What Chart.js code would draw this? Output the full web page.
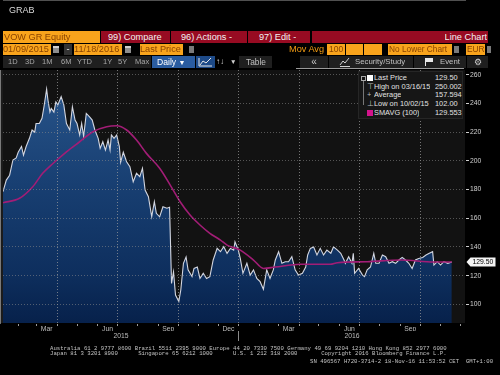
<!DOCTYPE html>
<html><head><meta charset="utf-8">
<script src="https://cdn.jsdelivr.net/npm/chart.js@4.4.1/dist/chart.umd.min.js"></script>
<style>
html,body{margin:0;padding:0;background:#000;width:500px;height:375px;overflow:hidden;}
#c{position:absolute;left:0;top:0;}
.a{position:absolute;white-space:nowrap;box-sizing:border-box;overflow:hidden;}
.tb{font-family:"Liberation Sans",Arial,sans-serif;font-size:9.2px;}
.nf{font-family:"Liberation Sans",Arial,sans-serif;}
.or{background:#f9a41c;color:#8a4300;}
.gy{background:#1f1f1f;color:#b4b4b4;}
.foot{position:absolute;white-space:pre;font-family:"Liberation Mono","DejaVu Sans Mono",monospace;font-size:11.3px;line-height:12px;color:#c4c4c4;transform:scale(0.5);transform-origin:0 0;}
</style>
</head><body>
<canvas id="c" width="500" height="375"></canvas>

<div class="a nf" style="left:9px;top:4px;font-size:9px;line-height:12px;color:#dadada;">GRAB</div>

<!-- row 1 -->
<div class="a tb or" style="left:3px;top:31px;width:97px;height:12px;line-height:12px;padding-left:1px;">VOW GR Equity</div>
<div class="a" style="left:101px;top:31px;width:387px;height:12px;background:#970b22;"></div>
<div class="a" style="left:170px;top:31px;width:1px;height:12px;background:#000;"></div>
<div class="a" style="left:247px;top:31px;width:1px;height:12px;background:#000;"></div>
<div class="a" style="left:310px;top:31px;width:2px;height:12px;background:#000;"></div>
<div class="a tb" style="left:108px;top:31px;line-height:12px;color:#f2f2f2;">99) Compare</div>
<div class="a tb" style="left:181px;top:31px;line-height:12px;color:#f2f2f2;">96) Actions -</div>
<div class="a tb" style="left:259px;top:31px;line-height:12px;color:#f2f2f2;">97) Edit -</div>
<div class="a tb" style="right:13px;top:31px;line-height:12px;color:#f2f2f2;">Line Chart</div>

<!-- row 2 -->
<div class="a tb or" style="left:3px;top:44px;width:48px;height:11px;line-height:11px;">01/09/2015</div>
<div class="a" style="left:53px;top:46px;width:6px;height:7px;background:#8d8d8d;border-top:2px solid #d0d0d0;"></div>
<div class="a tb" style="left:64px;top:44px;width:8px;height:11px;line-height:11px;background:#333;color:#eee;text-align:center;">-</div>
<div class="a tb or" style="left:74px;top:44px;width:48px;height:11px;line-height:11px;">11/18/2016</div>
<div class="a" style="left:125px;top:46px;width:6px;height:7px;background:#8d8d8d;border-top:2px solid #d0d0d0;"></div>
<div class="a tb or" style="left:140px;top:44px;width:43px;height:11px;line-height:11px;">Last Price</div>
<div class="a" style="left:189px;top:46px;width:5px;height:7px;background:#7a7a7a;"></div>
<div class="a tb" style="left:289px;top:44px;line-height:11px;color:#f49d12;">Mov Avg</div>
<div class="a tb or" style="left:327px;top:44px;width:18px;height:11px;line-height:11px;padding-left:2px;font-size:8.5px;">100</div>
<div class="a or" style="left:346px;top:44px;width:17px;height:11px;"></div>
<div class="a or" style="left:364px;top:44px;width:18px;height:11px;"></div>
<div class="a tb or" style="left:388px;top:44px;width:64px;height:11px;line-height:11px;padding-left:1px;font-size:8.3px;">No Lower Chart</div>
<div class="a" style="left:454px;top:46px;width:5px;height:7px;background:#7a7a7a;"></div>
<div class="a tb or" style="left:466px;top:44px;width:19px;height:11px;line-height:11px;padding-left:1px;font-size:8.3px;">EUR</div>
<div class="a" style="left:487px;top:46px;width:4px;height:7px;background:#7a7a7a;"></div>

<!-- row 3 -->
<div class="a gy" style="left:3px;top:56px;width:148px;height:12px;"></div>
<div class="a nf" style="left:8px;top:56px;font-size:7.5px;line-height:12px;color:#a8a8a8;">1D</div>
<div class="a nf" style="left:25px;top:56px;font-size:7.5px;line-height:12px;color:#a8a8a8;">3D</div>
<div class="a nf" style="left:42px;top:56px;font-size:7.5px;line-height:12px;color:#a8a8a8;">1M</div>
<div class="a nf" style="left:61px;top:56px;font-size:7.5px;line-height:12px;color:#a8a8a8;">6M</div>
<div class="a nf" style="left:77px;top:56px;font-size:7.5px;line-height:12px;color:#a8a8a8;">YTD</div>
<div class="a nf" style="left:103px;top:56px;font-size:7.5px;line-height:12px;color:#a8a8a8;">1Y</div>
<div class="a nf" style="left:118px;top:56px;font-size:7.5px;line-height:12px;color:#a8a8a8;">5Y</div>
<div class="a nf" style="left:135px;top:56px;font-size:7.5px;line-height:12px;color:#a8a8a8;">Max</div>
<div class="a tb" style="left:152px;top:56px;width:43px;height:12px;line-height:12px;background:#2a5ca0;color:#fff;padding-left:5px;font-size:8.6px;">Daily <span style="font-size:7px">▼</span></div>
<div class="a" style="left:196px;top:56px;width:19px;height:12px;background:#1d4a88;">
 <svg width="19" height="12" style="position:absolute;left:0;top:0"><polyline points="4,9 7,5 10,7 15,2" fill="none" stroke="#e8e8e8" stroke-width="1"/><polyline points="3,2 3,10 16,10" fill="none" stroke="#e8e8e8" stroke-width="1"/></svg>
</div>
<div class="a tb" style="left:216px;top:56px;line-height:12px;color:#d8d8d8;font-size:8px;">↑↓</div>
<div class="a tb" style="left:230px;top:56px;line-height:12px;color:#cfcfcf;font-size:6.5px;">▼</div>
<div class="a gy tb" style="left:239px;top:56px;width:33px;height:12px;line-height:12px;padding-left:7px;color:#c0c0c0;font-size:8.4px;">Table</div>
<div class="a gy tb" style="left:300px;top:56px;width:28px;height:12px;line-height:12px;text-align:center;color:#c8c8c8;font-size:10px;">«</div>
<div class="a gy" style="left:329px;top:56px;width:84px;height:12px;">
 <svg width="12" height="10" style="position:absolute;left:10px;top:1px"><polyline points="1,8 4,4 6,6 10,1" fill="none" stroke="#cfcfcf" stroke-width="1"/><line x1="1" y1="9.5" x2="11" y2="9.5" stroke="#cfcfcf"/></svg>
</div>
<div class="a tb" style="left:355px;top:56px;line-height:12px;color:#c0c0c0;font-size:7.8px;">Security/Study</div>
<div class="a gy" style="left:414px;top:56px;width:52px;height:12px;"></div>
<div class="a" style="left:425px;top:58px;width:1px;height:8px;background:#e8e8e8;"></div>
<div class="a" style="left:426px;top:58px;width:7px;height:4px;background:#e8e8e8;"></div>
<div class="a tb" style="left:440px;top:56px;line-height:12px;color:#c0c0c0;font-size:7.8px;">Event</div>
<div class="a gy tb" style="left:467px;top:56px;width:21px;height:12px;line-height:12px;text-align:center;color:#cfcfcf;font-size:9px;">⚙</div>
<div class="a" style="left:296px;top:68px;width:168px;height:1px;background:#9a9a9a;"></div>

<!-- legend -->
<div id="lg" class="a" style="left:358px;top:71px;width:105px;height:48px;background:#161616;border:1px solid #262626;"></div>

<!-- footer -->
<div class="foot" style="left:50px;top:344.5px;">Australia 61 2 9777 8600 Brazil 5511 2395 9000 Europe 44 20 7330 7500 Germany 49 69 9204 1210 Hong Kong 852 2977 6000</div>
<div class="foot" style="left:50px;top:350px;">Japan 81 3 3201 8900      Singapore 65 6212 1000      U.S. 1 212 318 2000       Copyright 2016 Bloomberg Finance L.P.</div>
<div class="foot" style="left:310px;top:358px;">SN 496567 H720-3714-2 18-Nov-16 11:53:52 CET  GMT+1:00</div>

<script>
// ---------------- data ----------------
const priceDates = [
'2015-01-09','2015-01-14','2015-01-19','2015-01-24','2015-01-29','2015-02-01','2015-02-06','2015-02-09','2015-02-13','2015-02-18',
'2015-02-22','2015-02-26','2015-02-28','2015-03-05','2015-03-09','2015-03-12','2015-03-16','2015-03-18','2015-03-21','2015-03-23',
'2015-03-27','2015-03-30','2015-04-02','2015-04-07','2015-04-11','2015-04-15','2015-04-20','2015-04-24','2015-04-28','2015-05-01',
'2015-05-05','2015-05-08','2015-05-11','2015-05-15','2015-05-20','2015-05-24','2015-05-28','2015-06-02','2015-06-05','2015-06-09',
'2015-06-13','2015-06-17','2015-06-20','2015-06-22','2015-06-26','2015-06-30','2015-07-04','2015-07-06','2015-07-10','2015-07-15',
'2015-07-20','2015-07-25','2015-07-30','2015-08-04','2015-08-08','2015-08-12','2015-08-17','2015-08-22','2015-08-26','2015-08-29',
'2015-09-03','2015-09-08','2015-09-14','2015-09-18','2015-09-21','2015-09-24','2015-09-27','2015-10-02','2015-10-05','2015-10-09',
'2015-10-13','2015-10-16','2015-10-22','2015-10-25','2015-10-30','2015-11-03','2015-11-08','2015-11-13','2015-11-18','2015-11-23',
'2015-11-29','2015-12-04','2015-12-09','2015-12-14','2015-12-19','2015-12-24','2015-12-26','2015-12-31','2016-01-03','2016-01-07',
'2016-01-13','2016-01-18','2016-01-23','2016-01-28','2016-02-02','2016-02-07','2016-02-12','2016-02-17','2016-02-22','2016-02-25',
'2016-03-01','2016-03-06','2016-03-11','2016-03-16','2016-03-21','2016-03-26','2016-03-31','2016-04-06','2016-04-11','2016-04-14',
'2016-04-18','2016-04-23','2016-04-28','2016-05-03','2016-05-08','2016-05-13','2016-05-19','2016-05-23','2016-05-29','2016-06-03',
'2016-06-08','2016-06-10','2016-06-15','2016-06-20','2016-06-22','2016-06-24','2016-06-30','2016-07-06','2016-07-09','2016-07-13',
'2016-07-18','2016-07-23','2016-07-26','2016-07-31','2016-08-05','2016-08-10','2016-08-15','2016-08-20','2016-08-25','2016-08-30',
'2016-09-04','2016-09-09','2016-09-14','2016-09-19','2016-09-24','2016-09-29','2016-10-05','2016-10-10','2016-10-15','2016-10-20',
'2016-10-22','2016-10-27','2016-11-01','2016-11-06','2016-11-12','2016-11-18'];
const prices = [
178.5,186.6,190.0,200.6,202.0,206.0,210.0,204.0,210.0,215.7,
221.5,220.0,226.0,226.0,229.6,237.7,250.0,242.4,234.0,236.6,
234.0,241.0,239.0,244.7,239.0,226.0,221.5,237.7,228.4,226.0,
218.0,226.0,217.0,233.0,230.7,228.4,221.5,215.7,208.7,213.3,
207.5,214.5,207.5,218.0,215.7,218.0,210.0,199.0,206.0,199.4,
195.9,185.4,191.3,189.0,194.8,179.7,175.0,161.0,171.5,163.4,
161.0,168.0,167.0,167.6,114.6,122.7,106.5,102.0,110.0,128.6,
133.0,124.0,119.3,125.0,126.0,118.1,121.6,118.0,119.3,130.9,
139.0,136.7,140.2,135.5,139.0,137.8,143.6,137.8,132.0,121.6,
128.6,120.4,124.0,118.1,115.8,110.5,124.0,118.0,124.0,130.9,
136.7,128.6,129.7,129.7,133.2,124.0,120.4,121.6,126.0,134.4,
139.0,140.0,134.4,139.0,134.4,137.8,135.6,140.0,137.8,135.6,
130.9,128.6,133.2,128.6,135.6,121.6,125.0,120.4,119.3,124.0,
126.0,135.6,128.6,128.6,134.4,133.2,128.6,129.7,128.6,130.9,
132.7,130.9,128.6,125.0,130.9,132.0,132.7,134.4,135.6,136.7,
127.4,129.7,127.4,129.7,128.6,129.5];
const smaDates = [
'2015-01-09','2015-02-03','2015-02-23','2015-03-10','2015-03-26','2015-04-15','2015-05-05','2015-05-25','2015-06-15','2015-06-30',
'2015-07-15','2015-07-30','2015-08-14','2015-09-03','2015-09-19','2015-10-04','2015-10-19','2015-11-03','2015-11-18','2015-12-04',
'2015-12-14','2016-01-03','2016-01-23','2016-02-07','2016-02-25','2016-04-03','2016-05-18','2016-05-29','2016-07-13','2016-09-02',
'2016-10-22','2016-11-18'];
const smaValues = [
170.8,173.9,182.0,191.3,198.3,206.3,213.3,220.3,223.8,224.4,
221.5,214.5,205.2,194.8,183.1,171.5,162.2,155.3,149.5,144.8,
141.3,137.8,130.9,125.0,126.0,127.9,127.9,129.0,129.7,130.9,
129.5,129.55];
const yTicks = [100,120,140,160,180,200,220,240,260];
const monthNames = ['Jan','Feb','Mar','Apr','May','Jun','Jul','Aug','Sep','Oct','Nov','Dec'];
const labelledMonths = ['Mar','Jun','Sep','Dec'];
const gridMonths = ['Jan','Apr','Jul','Oct'];
const years = ['2015','2016'];
const axisStart = '2015-01-09';
const axisEnd = '2016-12-08';
const legendLabels = ['Last Price','High on 03/16/15','Average','Low on 10/02/15','SMAVG (100)'];
const legendValues = ['129.50','250.002','157.594','102.00','129.553'];

// ---------------- helpers ----------------
const NF = '"Liberation Sans", Arial, sans-serif';
const DAY0 = Date.UTC(2015,0,1);
function dayNum(s){const p=s.split('-').map(Number);return (Date.UTC(p[0],p[1]-1,p[2])-DAY0)/86400000;}
const xMin = dayNum(axisStart), xMax = dayNum(axisEnd);

// month boundary ticks (label shown only when the middle of the month is on the axis)
const monthTicks = [];
for(let y=2015;y<=2016;y++){for(let m=0;m<12;m++){
  const d=(Date.UTC(y,m,1)-DAY0)/86400000;
  if(d>xMin && d<xMax) monthTicks.push({value:d, name:monthNames[m], full:(d+15)<xMax});
}}
// year label ticks & separators
const yearTicks = [];
years.forEach((yr,i)=>{
  const s = Math.max(xMin,(Date.UTC(+yr,0,1)-DAY0)/86400000);
  const e = Math.min(xMax,(Date.UTC(+yr+1,0,1)-DAY0)/86400000);
  yearTicks.push({value:(s+e)/2, label:yr, sep:false});
  if(i>0) yearTicks.push({value:s, label:'', sep:true});
});
yearTicks.sort((a,b)=>a.value-b.value);

// legend html
const lg = document.getElementById('lg');
const rowTop = [1,9.7,18.4,27.1,35.8];
let h = '<div class="a" style="left:2px;top:4px;width:5px;height:5px;border:1px solid #aaa;"></div>'+
        '<div class="a" style="left:4px;top:9px;width:1px;height:24px;background:#777;"></div>';
const icons = [
  '<div class="a" style="left:8px;top:3px;width:6px;height:6px;background:#fff;"></div>',
  '<div class="a nf" style="left:8px;top:'+rowTop[1]+'px;font-size:7.5px;line-height:9px;color:#bbb;">⊤</div>',
  '<div class="a nf" style="left:8px;top:'+rowTop[2]+'px;font-size:7.5px;line-height:9px;color:#bbb;">+</div>',
  '<div class="a nf" style="left:8px;top:'+rowTop[3]+'px;font-size:7.5px;line-height:9px;color:#bbb;">⊥</div>',
  '<div class="a" style="left:8px;top:38px;width:6px;height:6px;background:#d4148c;"></div>'
];
legendLabels.forEach((l,i)=>{
  h += icons[i];
  h += '<div class="a nf" style="left:15px;top:'+rowTop[i]+'px;font-size:7.4px;line-height:9px;color:#e2e2e2;">'+l+'</div>';
  h += '<div class="a nf" style="left:76px;top:'+rowTop[i]+'px;font-size:7.4px;line-height:9px;color:#e2e2e2;">'+legendValues[i]+'</div>';
});
lg.innerHTML = h;

// ---------------- chart ----------------
const pricePts = priceDates.map((d,i)=>({x:dayNum(d),y:prices[i]}));
const smaPts = smaDates.map((d,i)=>({x:dayNum(d),y:smaValues[i]}));

const bgPlugin = {
  id:'bg',
  beforeDraw(chart){
    const {ctx,chartArea:a} = chart;
    ctx.save();
    ctx.fillStyle='#000'; ctx.fillRect(0,0,chart.width,chart.height);
    ctx.fillStyle='#1b1b1b'; ctx.fillRect(0,a.top,a.left,a.bottom-a.top);
    ctx.fillStyle='#121212'; ctx.fillRect(a.left,a.top,a.right-a.left,a.bottom-a.top);
    ctx.restore();
  }
};
const lastPlugin = {
  id:'lastLabel',
  afterDraw(chart){
    const ys = chart.scales.y, ctx = chart.ctx;
    const v = prices[prices.length-1];
    const y = ys.getPixelForValue(v), x = ys.left + 1.5;
    ctx.save();
    ctx.fillStyle='#f4f4f4';
    ctx.beginPath();
    ctx.moveTo(x,y); ctx.lineTo(x+4,y-4.5); ctx.lineTo(x+29,y-4.5); ctx.lineTo(x+29,y+4.5); ctx.lineTo(x+4,y+4.5); ctx.closePath();
    ctx.fill();
    ctx.fillStyle='#000'; ctx.font='6.8px '+NF; ctx.textBaseline='middle'; ctx.textAlign='left';
    ctx.fillText(v.toFixed(2), x+6, y+0.5);
    ctx.restore();
  }
};

new Chart(document.getElementById('c'), {
  type:'line',
  data:{datasets:[
    {label:'SMAVG (100)', data:smaPts, borderColor:'#a21d76', borderWidth:1.6, pointRadius:0, fill:false, cubicInterpolationMode:'monotone'},
    {label:'Last Price', data:pricePts, borderColor:'#d3d6e0', borderWidth:1.1, pointRadius:0, tension:0, fill:'start',
     backgroundColor:(c)=>{const a=c.chart.chartArea; if(!a) return '#173d70';
       const g=c.chart.ctx.createLinearGradient(0,a.top,0,a.bottom);
       g.addColorStop(0,'#2a578d'); g.addColorStop(0.45,'#183f72'); g.addColorStop(0.8,'#0e2f5e'); g.addColorStop(1,'#07214b'); return g;}}
  ]},
  options:{
    responsive:false, animation:false, events:[],
    layout:{padding:{left:3,top:70,right:0,bottom:0}},
    plugins:{legend:{display:false}, tooltip:{enabled:false}},
    scales:{
      x:{type:'linear', position:'bottom', min:xMin, max:xMax, weight:0,
        afterBuildTicks:s=>{s.ticks = monthTicks.map(t=>({value:t.value}));},
        afterFit:s=>{s.height=8;},
        grid:{z:1, lineWidth:1, tickLength:3, tickColor:'#9a9a9a', tickBorderDash:[],
          color:(c)=>{ if(!c.tick) return 'rgba(0,0,0,0)'; const t=monthTicks.find(m=>m.value===c.tick.value); return (t && gridMonths.includes(t.name)) ? 'rgba(160,160,160,0.7)' : 'rgba(0,0,0,0)'; }},
        border:{display:true, color:'#a0a0a0', dash:[1,2]},
        ticks:{autoSkip:false, maxRotation:0, minRotation:0, labelOffset:10, padding:-1, color:'#bdbdbd', font:{family:NF,size:6.8},
          callback:(v)=>{const t=monthTicks.find(m=>m.value===v); return (t && t.full && labelledMonths.includes(t.name)) ? t.name : '';}}
      },
      x2:{type:'linear', position:'bottom', min:xMin, max:xMax, weight:1,
        afterBuildTicks:s=>{s.ticks = yearTicks.map(t=>({value:t.value}));},
        afterFit:s=>{s.height=44;},
        grid:{drawOnChartArea:false, tickLength:10, tickBorderDash:[],
          tickColor:(c)=>{ if(!c.tick) return 'rgba(0,0,0,0)'; const t=yearTicks.find(m=>m.value===c.tick.value); return (t && t.sep) ? '#8a8a8a' : 'rgba(0,0,0,0)'; }},
        border:{display:false},
        ticks:{autoSkip:false, maxRotation:0, minRotation:0, padding:-9, color:'#bdbdbd', font:{family:NF,size:6.8},
          callback:(v)=>{const t=yearTicks.find(m=>m.value===v); return t ? t.label : '';}}
      },
      y:{type:'linear', position:'right', min:87, max:263.3,
        afterBuildTicks:s=>{s.ticks = yTicks.map(v=>({value:v}));},
        afterFit:s=>{s.width=35;},
        grid:{z:1, color:'rgba(140,140,140,0.55)', tickLength:4, tickColor:'#cfcfcf', tickBorderDash:[]},
        border:{display:true, color:'#d8d8d8', dash:[1,2]},
        ticks:{padding:1, color:'#d0d0d0', font:{family:NF,size:6.8}, callback:v=>String(v)}
      }
    }
  },
  plugins:[bgPlugin,lastPlugin]
});
</script>
</body></html>
